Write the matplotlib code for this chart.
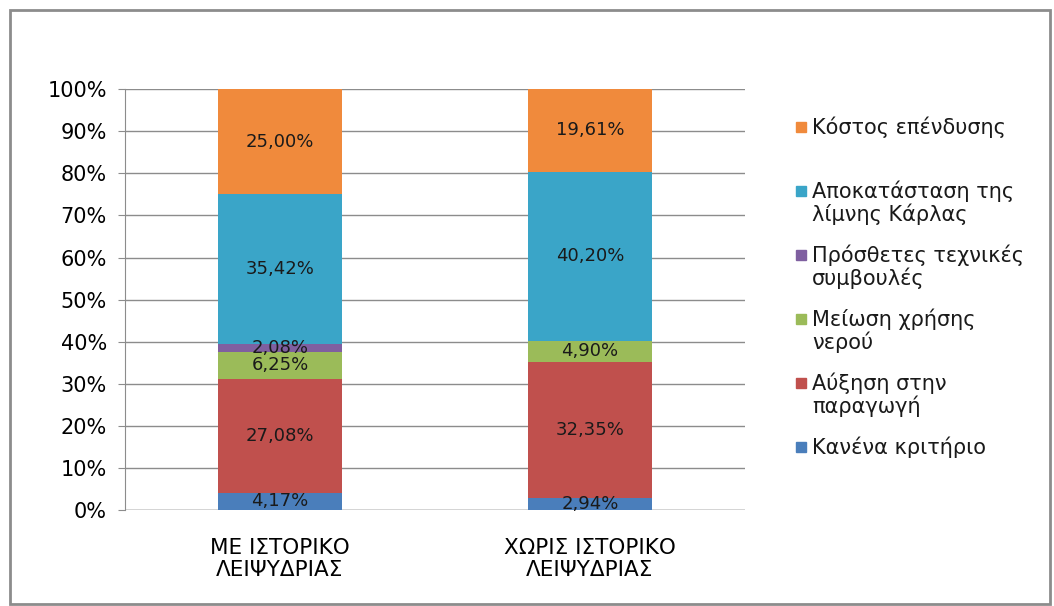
import numpy as np
import matplotlib
matplotlib.use("Agg")
from matplotlib import pyplot as plt
from matplotlib.patches import Rectangle

# categories and series (bottom -> top)
categories = ["ΜΕ ΙΣΤΟΡΙΚΟ\nΛΕΙΨΥΔΡΙΑΣ", "ΧΩΡΙΣ ΙΣΤΟΡΙΚΟ\nΛΕΙΨΥΔΡΙΑΣ"]
series_names = ["Κανένα κριτήριο", "Αύξηση στην\nπαραγωγή", "Μείωση χρήσης\nνερού",
                "Πρόσθετες τεχνικές\nσυμβουλές", "Αποκατάσταση της\nλίμνης Κάρλας", "Κόστος επένδυσης"]
kanena = [4.17, 2.94]
afxisi = [27.08, 32.35]
meiosi = [6.25, 4.90]
prosthetes = [2.08, 0.0]
apokatastasi = [35.42, 40.20]
kostos = [25.00, 19.61]
series_values = [kanena, afxisi, meiosi, prosthetes, apokatastasi, kostos]
colors = ["#4a7ebb", "#c0504d", "#9bbb59", "#7f5fa0", "#3aa5c8", "#f08a3c"]
yticks = [0, 10, 20, 30, 40, 50, 60, 70, 80, 90, 100]

plt.rcParams['font.family'] = ['DejaVu Sans']
W, H = 1054, 606
fig = plt.figure(figsize=(W / 100, H / 100), dpi=100)
fig.patches.append(Rectangle((10 / W, 2 / H), 1040 / W, 594 / H, transform=fig.transFigure,
                             fill=False, edgecolor="#8c8c8c", linewidth=2))
ax = fig.add_axes([0.1186, 0.158, 0.588, 0.695])

x = np.arange(len(categories))
bottom = np.zeros(len(categories))
for name, vals, c in zip(series_names, series_values, colors):
    vals = np.array(vals)
    ax.bar(x, vals, 0.4, bottom=bottom, color=c, label=name, zorder=3)
    for xi, v, bt in zip(x, vals, bottom):
        if v > 0:
            ax.text(xi, bt + v / 2, f"{v:.2f}%".replace(".", ","), ha="center", va="center",
                    fontsize=13, color="#1a1a1a", zorder=4)
    bottom += vals

ax.set_xlim(-0.5, 1.5)
ax.set_ylim(0, 100)
ax.set_yticks(yticks)
ax.set_yticklabels([f"{t}%" for t in yticks], fontsize=15)
ax.set_xticks(x)
ax.set_xticklabels(categories, fontsize=15.5, linespacing=1.15)
ax.yaxis.grid(True, color="#8c8c8c", linewidth=1, zorder=0)
for s in ["top", "right", "bottom"]:
    ax.spines[s].set_visible(False)
ax.spines["left"].set_color("#8c8c8c")
ax.tick_params(axis="y", length=5, color="#8c8c8c", pad=8)
ax.tick_params(axis="x", length=0, pad=20)
ax.axhline(0, color="#8c8c8c", linewidth=1, zorder=2)

# legend drawn like the Excel one: equal slots, marker on the first line
for i, (name, c) in enumerate(zip(series_names[::-1], colors[::-1])):
    y0 = 127 + 64 * i
    fig.patches.append(Rectangle((796 / W, 1 - (y0 + 5) / H), 10 / W, 10 / H,
                                 transform=fig.transFigure, color=c))
    for j, line in enumerate(name.split("\n")):
        fig.text(812 / W, 1 - (y0 + 23 * j) / H, line, fontsize=15, va="center", ha="left",
                 color="#1a1a1a")

fig.savefig("out.png", dpi=100)
